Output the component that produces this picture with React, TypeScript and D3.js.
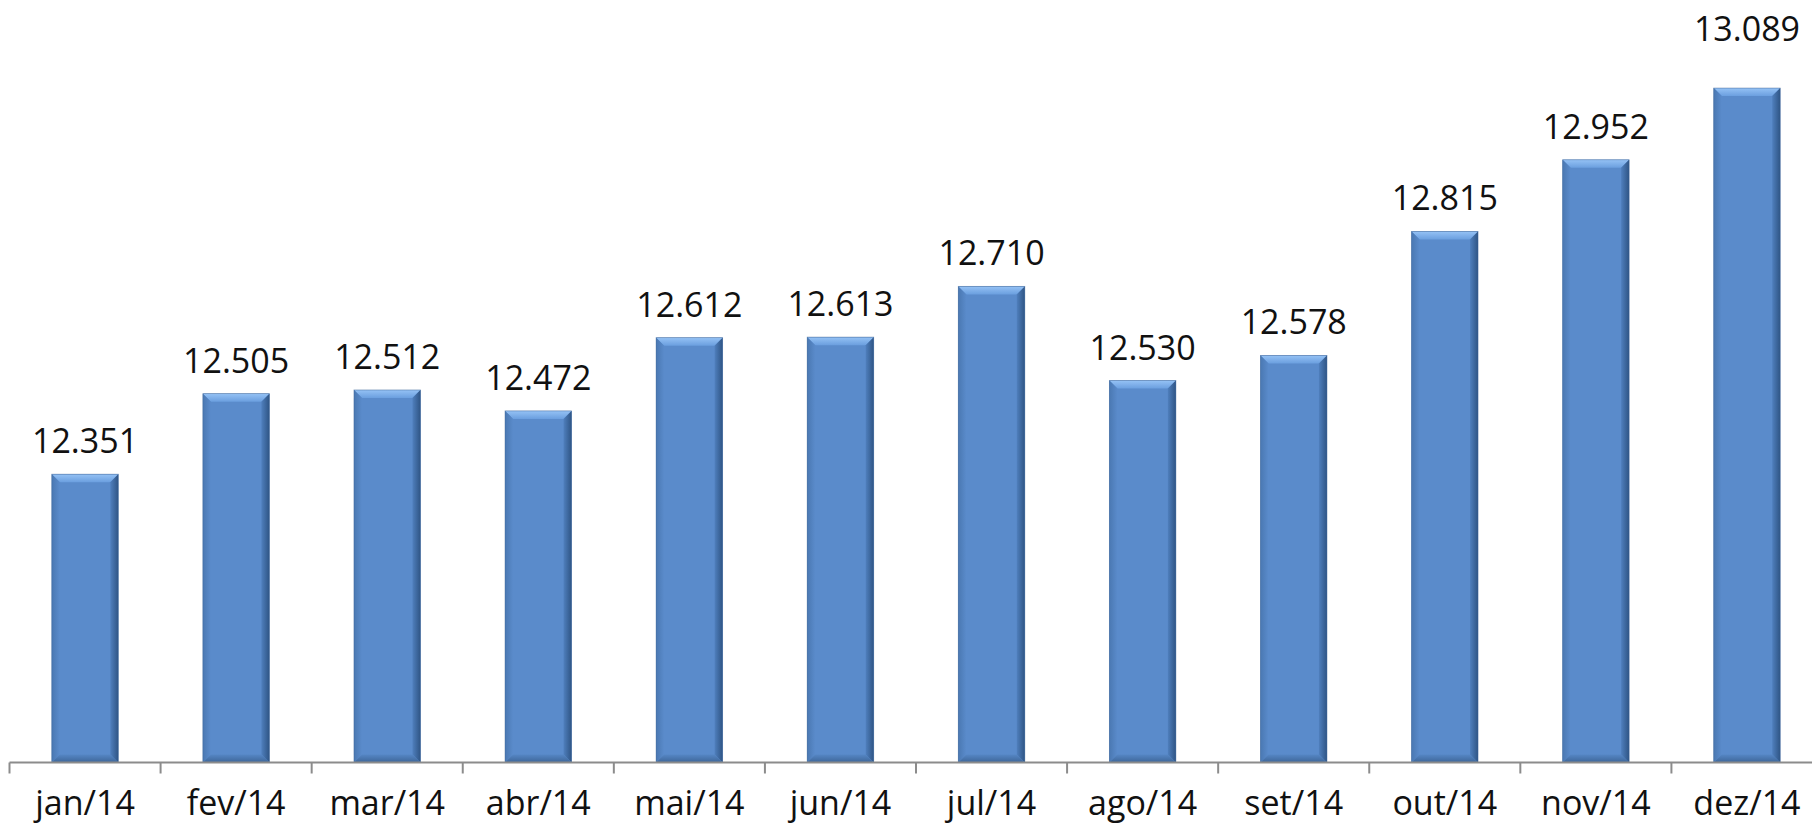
import React, { useEffect, useRef } from "react";
import * as d3 from "d3";

const months = ["jan/14", "fev/14", "mar/14", "abr/14", "mai/14", "jun/14", "jul/14", "ago/14", "set/14", "out/14", "nov/14", "dez/14"];
const values = [12351, 12505, 12512, 12472, 12612, 12613, 12710, 12530, 12578, 12815, 12952, 13089];

const fmt = (v: number) => d3.format(",")(v).replace(/,/g, ".");

const App = () => {
  const ref = useRef<SVGSVGElement>(null);

  useEffect(() => {
    const width = 1812;
    const axisY = 762.5;
    const bevel = 8;

    const svg = d3.select(ref.current);
    svg.selectAll("*").remove();

    const x = d3
      .scaleBand<string>()
      .domain(months)
      .range([9.5, 1822.5])
      .paddingInner(0.56)
      .paddingOuter(0.28);

    const y = d3.scaleLinear().domain([11800, 13200]).range([axisY, 30]);

    const defs = svg.append("defs");
    const topGrad = defs.append("linearGradient").attr("id", "topG").attr("x1", 0).attr("y1", 0).attr("x2", 0).attr("y2", 1);
    topGrad.append("stop").attr("offset", "0%").attr("stop-color", "#95c2f5");
    topGrad.append("stop").attr("offset", "100%").attr("stop-color", "#6b9fdf");
    const rightGrad = defs.append("linearGradient").attr("id", "rightG").attr("x1", 0).attr("y1", 0).attr("x2", 1).attr("y2", 0);
    rightGrad.append("stop").attr("offset", "0%").attr("stop-color", "#4f7fbd");
    rightGrad.append("stop").attr("offset", "100%").attr("stop-color", "#2f5585");
    const leftGrad = defs.append("linearGradient").attr("id", "leftG").attr("x1", 0).attr("y1", 0).attr("x2", 1).attr("y2", 0);
    leftGrad.append("stop").attr("offset", "0%").attr("stop-color", "#4a78b2");
    leftGrad.append("stop").attr("offset", "100%").attr("stop-color", "#5a8bcb");
    const botGrad = defs.append("linearGradient").attr("id", "botG").attr("x1", 0).attr("y1", 0).attr("x2", 0).attr("y2", 1);
    botGrad.append("stop").attr("offset", "0%").attr("stop-color", "#5586c4");
    botGrad.append("stop").attr("offset", "100%").attr("stop-color", "#3e6699");

    const bw = x.bandwidth();
    const bars = svg.append("g").selectAll("g").data(months).join("g");

    bars.each(function (m, i) {
      const g = d3.select(this);
      const x0 = x(m)!;
      const y0 = y(values[i]);
      const x1 = x0 + bw;
      const y1 = axisY;
      g.append("rect").attr("x", x0).attr("y", y0).attr("width", bw).attr("height", y1 - y0).attr("fill", "#5a8bcb");
      const poly = (pts: number[][], fill: string) =>
        g.append("polygon").attr("points", pts.map(p => p.join(",")).join(" ")).attr("fill", fill);
      poly([[x0, y0], [x1, y0], [x1 - bevel, y0 + bevel], [x0 + bevel, y0 + bevel]], "url(#topG)");
      poly([[x0, y0], [x0 + bevel, y0 + bevel], [x0 + bevel, y1 - bevel], [x0, y1]], "url(#leftG)");
      poly([[x1, y0], [x1 - bevel, y0 + bevel], [x1 - bevel, y1 - bevel], [x1, y1]], "url(#rightG)");
      poly([[x0, y1], [x0 + bevel, y1 - bevel], [x1 - bevel, y1 - bevel], [x1, y1]], "url(#botG)");
      g.append("rect").attr("x", x0).attr("y", y0).attr("width", bw).attr("height", y1 - y0)
        .attr("fill", "none").attr("stroke", "#3d6496").attr("stroke-width", 0.8).attr("stroke-opacity", 0.6);
    });

    // data labels (last one sits higher, as in the original)
    svg.append("g").selectAll("text").data(months).join("text")
      .attr("x", m => x(m)! + bw / 2)
      .attr("y", (m, i) => y(values[i]) - (i === months.length - 1 ? 47 : 21))
      .attr("text-anchor", "middle")
      .attr("font-family", "'Open Sans', sans-serif")
      .attr("font-size", 34)
      .attr("fill", "#111")
      .text((m, i) => fmt(values[i]));

    // x axis
    const step = x.step();
    const ax = svg.append("g");
    ax.append("line").attr("x1", 9.5).attr("x2", width).attr("y1", axisY).attr("y2", axisY)
      .attr("stroke", "#8c8c8c").attr("stroke-width", 2);
    ax.selectAll("line.tick").data(months).join("line").attr("class", "tick")
      .attr("x1", (m, i) => 9.5 + i * step).attr("x2", (m, i) => 9.5 + i * step)
      .attr("y1", axisY).attr("y2", axisY + 11)
      .attr("stroke", "#8c8c8c").attr("stroke-width", 2);
    ax.selectAll("text").data(months).join("text")
      .attr("x", m => x(m)! + bw / 2)
      .attr("y", 815)
      .attr("text-anchor", "middle")
      .attr("font-family", "'Open Sans', sans-serif")
      .attr("font-size", 34)
      .attr("fill", "#111")
      .text(m => m);
  }, []);

  return (
    <svg ref={ref} width={1812} height={827} style={{ position: "absolute", left: 0, top: 0, background: "#fff" }} />
  );
};

export default App;
